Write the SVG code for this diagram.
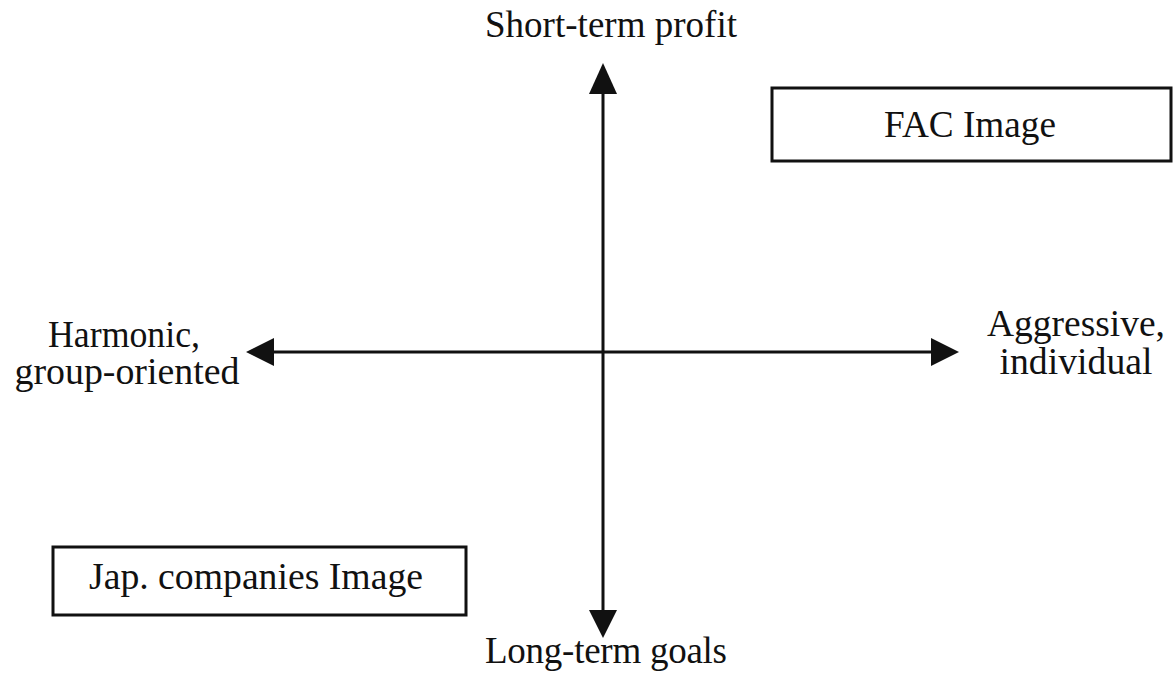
<svg xmlns="http://www.w3.org/2000/svg" width="1176" height="675" viewBox="0 0 1176 675">
<style>
text{font-family:"Liberation Serif","Times New Roman",serif;font-size:37px;fill:#111;text-anchor:middle}
.box{fill:#fff;stroke:#111;stroke-width:3}
.ax{stroke:#111;stroke-width:3;fill:none}
.head{fill:#111}
</style>
<rect width="1176" height="675" fill="#fff"/>
<g id="connectors">
<line class="ax" x1="603" y1="90" x2="603" y2="614"/>
<line class="ax" x1="270" y1="352" x2="935" y2="352"/>
<polygon class="head" points="603,63 589,94 617,94"/>
<polygon class="head" points="603,638 589,610 617,610"/>
<polygon class="head" points="246,352 274,338 274,366"/>
<polygon class="head" points="959,352 931,338 931,366"/>
</g>
<g id="top-label"><text x="611" y="37" textLength="252" lengthAdjust="spacing">Short-term  profit</text></g>
<g id="bottom-label"><text x="606" y="663" textLength="242" lengthAdjust="spacing">Long-term  goals</text></g>
<g id="left-label"><text x="124" y="347" textLength="152" lengthAdjust="spacingAndGlyphs">Harmonic,</text><text x="127" y="384" textLength="225" lengthAdjust="spacingAndGlyphs">group-oriented</text></g>
<g id="right-label"><text x="1076" y="336" textLength="178" lengthAdjust="spacingAndGlyphs">Aggressive,</text><text x="1076" y="374" textLength="153" lengthAdjust="spacingAndGlyphs">individual</text></g>
<g id="fac"><rect class="box" x="772" y="88" width="399" height="73"/><text x="970" y="137" textLength="172" lengthAdjust="spacingAndGlyphs">FAC Image</text></g>
<g id="jap"><rect class="box" x="53" y="547" width="413" height="68"/><text x="256" y="589" textLength="334" lengthAdjust="spacingAndGlyphs">Jap. companies Image</text></g>
</svg>
